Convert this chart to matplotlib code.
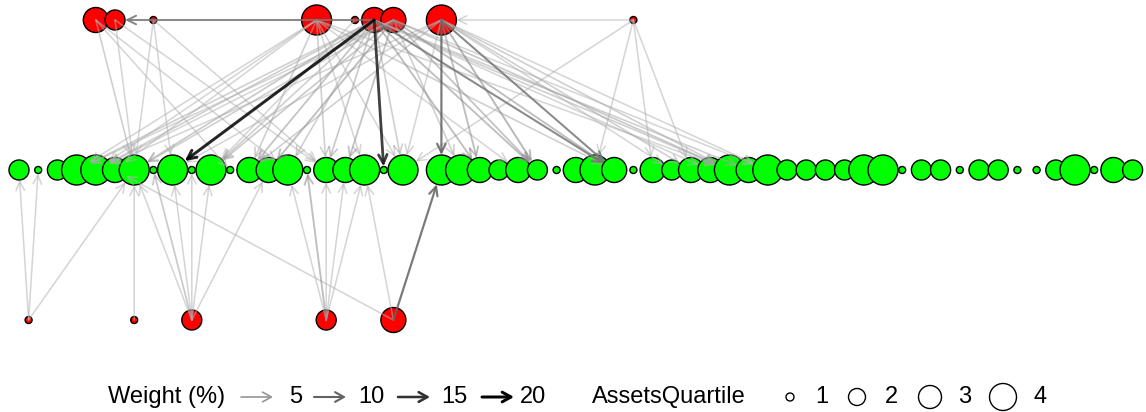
import matplotlib
matplotlib.use("Agg")
import matplotlib.pyplot as plt
from matplotlib.patches import FancyArrowPatch

plt.rcParams['font.family'] = ['Liberation Sans', 'DejaVu Sans']

# ---- nodes: x slot in layer, assets quartile ----
top_x = [4, 5, 7, 15.5, 17.5, 18.5, 19.5, 22, 32]
top_q = [3, 2, 1, 4, 1, 3, 3, 4, 1]

mid_x = [0, 1, 2, 3, 4, 5, 6, 7, 8, 9, 10, 11, 12, 13, 14, 15, 16, 17, 18, 19, 20,
         22, 23, 24, 25, 26, 27, 28, 29, 30, 31, 32, 33, 34, 35, 36, 37, 38, 39,
         40, 41, 42, 43, 44, 45, 46, 47, 48, 49, 50, 51, 52, 53, 54, 55, 56, 57, 58]
mid_q = [2, 1, 2, 4, 4, 3, 4, 1, 4, 1, 4, 1, 3, 3, 4, 1, 3, 3, 4, 1, 4,
         4, 4, 3, 2, 3, 2, 1, 3, 4, 3, 1, 3, 2, 3, 3, 4, 3, 4,
         2, 2, 2, 2, 4, 4, 1, 2, 2, 1, 2, 2, 1, 1, 2, 4, 1, 3, 2]

bot_x = [0.5, 6, 9, 16, 19.5]
bot_q = [1, 1, 2, 2, 3]

# ---- edges: (layer, slot) -> (layer, slot), weight % ----
edges_src = []
edges_dst = []
edges_w = []

def add(src, dst, w):
    edges_src.append(src)
    edges_dst.append(dst)
    edges_w.append(w)

# top hub 18.5
for t, w in [(8, 20), (19, 17), (3, 3), (4, 3), (6, 4), (12, 5), (14, 3), (16, 4),
             (20, 3), (24, 6), (27, 6), (31, 8), (37, 3), (36, 2), (38, 3), (10, 3)]:
    add(('T', 18.5), ('M', t), w)
# top 19.5
for t, w in [(3, 2), (6, 3), (10, 4), (13, 6), (17, 5), (27, 5), (31, 6), (37, 4),
             (39, 2), (23, 3), (4, 2)]:
    add(('T', 19.5), ('M', t), w)
# top 15.5
for t, w in [(3, 2), (4, 2), (5, 2), (12, 3), (16, 3), (20, 2), (31, 3), (37, 2),
             (26, 2), (18, 2)]:
    add(('T', 15.5), ('M', t), w)
# top 22
for t, w in [(22, 10), (24, 6), (27, 7), (31, 8), (35, 3), (37, 3), (12, 3), (8, 2),
             (20, 2), (4, 2), (39, 2), (34, 2)]:
    add(('T', 22), ('M', t), w)
# top 32
for t, w in [(20, 2), (30, 2), (33, 2), (35, 2)]:
    add(('T', 32), ('M', t), w)
# small top nodes
for s, t, w in [(4, 6, 3), (4, 11, 2), (4, 14, 2), (5, 6, 2), (5, 16, 2),
                (7, 6, 2), (7, 8, 2), (7, 16, 2), (17.5, 10, 2)]:
    add(('T', s), ('M', t), w)
# top to top
add(('T', 18.5), ('T', 5), 8)
add(('T', 32), ('T', 22), 2)
# bottom layer
for s, t, w in [(0.5, 0, 2), (0.5, 1, 2), (0.5, 6, 2), (6, 6, 2),
                (9, 6, 2), (9, 7, 4), (9, 8, 2), (9, 9, 2), (9, 10, 2), (9, 13, 2),
                (16, 14, 2), (16, 15, 6), (16, 16, 2), (16, 17, 2), (16, 18, 2),
                (19.5, 22, 10), (19.5, 18, 2), (19.5, 5, 2)]:
    add(('B', s), ('M', t), w)

weight_legend = [5, 10, 15, 20]
quartile_legend = [1, 2, 3, 4]

# ---- drawing helpers ----
W, H = 1146, 412
DPI = 100
PT = 72.0 / DPI
radius_px = {1: 3.5, 2: 10, 3: 12.5, 4: 15}
layer_y = {'T': 2, 'M': 1, 'B': 0}


def edge_color(w):
    g = 0.78 * (1 - min(w, 20) / 20.0)
    return (g, g, g)


def edge_width(w):
    return (1.4 + 0.08 * w) * PT


fig = plt.figure(figsize=(W / DPI, H / DPI), dpi=DPI)
ax = fig.add_axes([0, 0, 1, 1])
ax.set_xlim((0 - 19) / 19.2, (W - 19) / 19.2)
ax.set_ylim(1 - (H - 170) / 150.0, 1 + 170 / 150.0)
ax.axis('off')

q_lookup = {}
for x, q in zip(top_x, top_q):
    q_lookup[('T', x)] = q
for x, q in zip(mid_x, mid_q):
    q_lookup[('M', x)] = q
for x, q in zip(bot_x, bot_q):
    q_lookup[('B', x)] = q


def draw_nodes(xs, qs, y, color):
    ax.scatter(xs, [y] * len(xs), s=[(2 * radius_px[q] * PT) ** 2 for q in qs],
               c=color, edgecolors='black', linewidths=1.0, zorder=2)


draw_nodes(top_x, top_q, 2, '#FF0000')
draw_nodes(mid_x, mid_q, 1, '#00FF00')
draw_nodes(bot_x, bot_q, 0, '#FF0000')

order = sorted(range(len(edges_w)), key=lambda i: edges_w[i])
for i in order:
    s, d, w = edges_src[i], edges_dst[i], edges_w[i]
    p0 = (s[1], layer_y[s[0]])
    p1 = (d[1], layer_y[d[0]])
    rB = radius_px[q_lookup[d]] * PT
    arr = FancyArrowPatch(p0, p1, arrowstyle='->,head_length=0.45,head_width=0.22',
                          mutation_scale=14, shrinkA=0, shrinkB=rB,
                          color=edge_color(w), lw=edge_width(w),
                          alpha=0.55 if w < 8 else 0.85, zorder=3)
    ax.add_patch(arr)

# ---- legend ----
lg = fig.add_axes([0, 0, 1, 40 / H])
lg.set_xlim(0, W)
lg.set_ylim(0, 40)
lg.axis('off')
ly = 15
fs = 17
lg.text(108, ly, 'Weight (%)', fontsize=fs, va='center', ha='left')
arrow_x = [241, 314, 398, 482]
label_x = [289, 358, 441, 520]
for x0, lx, w in zip(arrow_x, label_x, weight_legend):
    lg.add_patch(FancyArrowPatch((x0, ly), (x0 + 32, ly),
                                 arrowstyle='->,head_length=0.45,head_width=0.25',
                                 mutation_scale=14, shrinkA=0, shrinkB=0,
                                 color=edge_color(w), lw=(1.2 + 0.09 * w) * PT))
    lg.text(lx, ly, str(w), fontsize=fs, va='center', ha='left')

lg.text(592, ly, 'AssetsQuartile', fontsize=fs, va='center', ha='left')
circ_x = [790, 857, 930, 1003]
qlabel_x = [815, 885, 958, 1033]
leg_r = {1: 4, 2: 8.5, 3: 11.5, 4: 13.5}
for cx, lx, q in zip(circ_x, qlabel_x, quartile_legend):
    lg.scatter([cx], [ly], s=(2 * leg_r[q] * PT) ** 2, facecolors='none',
               edgecolors='black', linewidths=1.0)
    lg.text(lx, ly, str(q), fontsize=fs, va='center', ha='left')

fig.savefig('out.png', dpi=DPI)
